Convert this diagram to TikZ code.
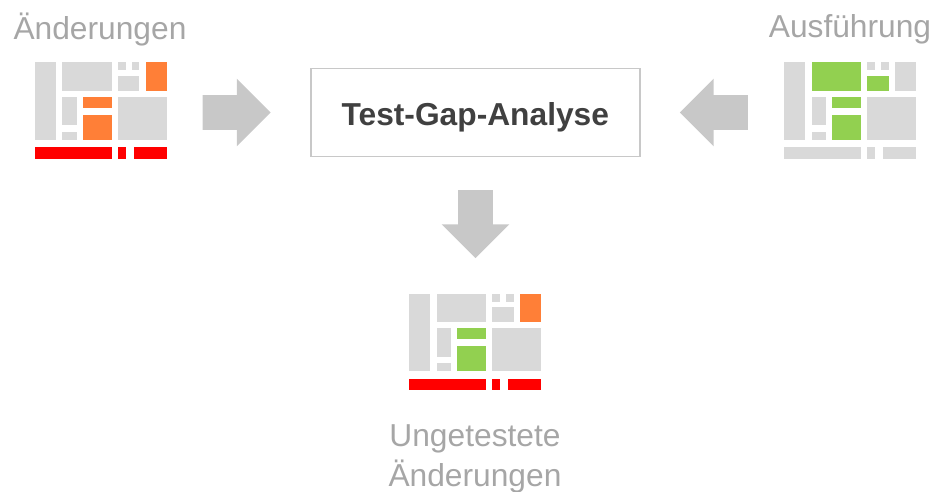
\documentclass[tikz,border=0pt]{standalone}
\usepackage{fontspec}
\setmainfont{Liberation Sans}
\usetikzlibrary{shapes.arrows}
\definecolor{blockgray}{HTML}{D9D9D9}
\definecolor{changed}{HTML}{FF7F37}
\definecolor{tested}{HTML}{92D050}
\definecolor{arrowgray}{HTML}{C8C8C8}
\definecolor{captiongray}{HTML}{A6A6A6}
\tikzset{
  caption/.style={text=captiongray,font=\fontsize{23.8}{30}\selectfont,inner sep=0pt,align=center},
  blockarrow/.style={single arrow,fill=arrowgray,inner xsep=0pt,inner ysep=12.75pt,minimum height=51pt,minimum width=50.5pt,
    single arrow head extend=12.4pt,single arrow tip angle=90,single arrow head indent=0pt,anchor=center},
}
% #1 position, #2 upper blocks, #3 corner block, #4 middle blocks, #5 bottom bar
\newcommand{\codemap}[5]{
  \begin{scope}[shift={(#1)}]
    \foreach \xa/\ya/\xb/\yb in {0/0/21.3/77.3,83.3/0/91.3/8,97/0/104.7/8,27.7/34.7/42.3/63,27.7/69.3/42.3/77.3,83.3/34.7/132.3/77.3}
      \fill[blockgray] (\xa,\ya) rectangle (\xb,\yb);
    \foreach \xa/\ya/\xb/\yb in {27.7/0/77/28.7,83.3/13.7/104.7/28.7}
      \fill[#2] (\xa,\ya) rectangle (\xb,\yb);
    \fill[#3] (111,0) rectangle (132.3,28.7);
    \foreach \xa/\ya/\xb/\yb in {48.3/34.7/77/45.7,48.3/52.3/77/77.3}
      \fill[#4] (\xa,\ya) rectangle (\xb,\yb);
    \foreach \xa/\xb in {0/77,83.3/91.3,99.3/132.3}
      \fill[#5] (\xa,85) rectangle (\xb,96.3);
  \end{scope}
}
\begin{document}
\begin{tikzpicture}[x=0.75pt,y=-0.75pt]
  \useasboundingbox (0,0) rectangle (935,492);

  \node[caption] (changes) at (100,29.5) {Änderungen};
  \node[caption] (execution) at (850,29.5) {Ausführung};
  \node[caption] (result) at (475,458.5) {Ungetestete\\Änderungen};

  \node[draw=arrowgray,line width=1.4pt,minimum width=246.5pt,minimum height=66pt,inner sep=0pt,
    text=black!75,font=\fontsize{23.8}{27}\selectfont\bfseries] (analysis) at (475.3,112.5) {\raisebox{-9.4pt}[0pt][0pt]{Test-Gap-Analyse}};

  \node[blockarrow] (arrowleft) at (228,112.5) {};
  \node[blockarrow,rotate=180] (arrowright) at (722.5,112.5) {};
  \node[blockarrow,rotate=-90] (arrowdown) at (475.5,215.5) {};

  \codemap{34.7,62.3}{blockgray}{changed}{changed}{red}
  \codemap{784,62.3}{tested}{blockgray}{tested}{blockgray}
  \codemap{409,293.7}{blockgray}{changed}{tested}{red}
\end{tikzpicture}
\end{document}
